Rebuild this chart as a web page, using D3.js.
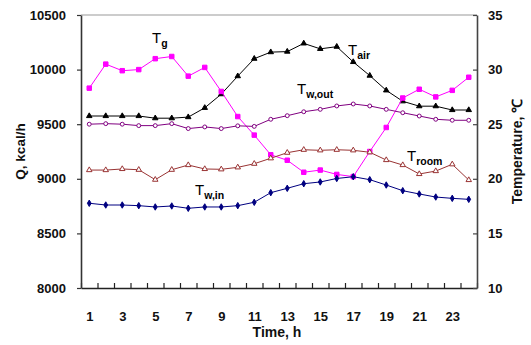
<!DOCTYPE html>
<html>
<head>
<meta charset="utf-8">
<script src="https://cdn.jsdelivr.net/npm/d3@7"></script>
<style>
  body { margin: 0; background: #fff; }
  svg { font-family: "Liberation Sans", Arial, sans-serif; }
</style>
</head>
<body>
<script>
// hours 1..24
const hours = d3.range(1, 25);
const hourLabels = [1, 3, 5, 7, 9, 11, 13, 15, 17, 19, 21, 23];
const qTicks = [8000, 8500, 9000, 9500, 10000, 10500];
const tTicks = [10, 15, 20, 25, 30, 35];

// temperatures, degC (right axis)
const tG = [28.3, 30.5, 29.9, 30.0, 31.0, 31.2, 29.4, 30.2, 28.0, 25.7, 24.0, 22.2,
            21.7, 20.6, 20.8, 20.4, 20.2, 22.5, 24.7, 27.4, 28.2, 27.5, 28.1, 29.3];
const tAir = [25.75, 25.75, 25.75, 25.75, 25.55, 25.55, 25.65, 26.5, 27.75, 29.4, 31.0, 31.6,
              31.65, 32.4, 31.9, 32.1, 30.7, 29.45, 28.1, 27.1, 26.65, 26.65, 26.3, 26.3];
const tWout = [25.0, 25.05, 25.0, 24.87, 24.87, 25.05, 24.6, 24.75, 24.6, 24.85, 24.8, 25.45,
               25.78, 26.14, 26.36, 26.67, 26.85, 26.67, 26.36, 26.05, 25.75, 25.45, 25.36, 25.36];
const tRoom = [20.8, 20.8, 20.9, 20.83, 19.92, 20.83, 21.26, 20.9, 20.87, 21.05, 21.38, 21.88,
               22.39, 22.66, 22.61, 22.66, 22.61, 22.43, 21.72, 21.26, 20.44, 20.71, 21.33, 19.89];
const tWin = [17.76, 17.6, 17.6, 17.54, 17.42, 17.51, 17.3, 17.42, 17.42, 17.54, 17.85, 18.73,
              19.13, 19.55, 19.71, 20.03, 20.19, 19.92, 19.43, 18.91, 18.61, 18.33, 18.21, 18.12];

const margin = { top: 15, right: 54, bottom: 57, left: 81 };
const W = 531, H = 345;
const width = W - margin.left - margin.right;
const height = H - margin.top - margin.bottom;

const svg = d3.select("body").append("svg")
    .attr("width", W)
    .attr("height", H)
  .append("g")
    .attr("transform", "translate(" + margin.left + "," + margin.top + ")");

const x = d3.scaleLinear().domain([0.5, 24.5]).range([0, width]);
const yQ = d3.scaleLinear().domain([8000, 10500]).range([height, 0]);
const yT = d3.scaleLinear().domain([10, 35]).range([height, 0]);

// top border
svg.append("line")
    .attr("x1", 0).attr("x2", width)
    .attr("y1", 0).attr("y2", 0)
    .attr("stroke", "#999").attr("stroke-width", 1);

// bottom axis: boundary ticks + labels
const xTickAxis = svg.append("g")
    .attr("transform", "translate(0," + height + ")")
    .call(d3.axisBottom(x).tickValues(d3.range(0.5, 25, 1)).tickFormat("").tickSize(-5).tickSizeOuter(0));
xTickAxis.selectAll("line").attr("stroke", "#222").attr("stroke-width", 1.2);
xTickAxis.select(".domain").attr("stroke", "#222").attr("stroke-width", 1.6);

const xLab = svg.append("g")
    .attr("transform", "translate(0," + height + ")")
    .call(d3.axisBottom(x).tickValues(hourLabels).tickFormat(d3.format("d")).tickSize(0).tickPadding(24));
xLab.select(".domain").remove();
xLab.selectAll("text").attr("font-size", 13).attr("font-weight", "bold")
    .attr("font-family", "Liberation Sans, Arial, sans-serif").attr("fill", "#111");

// left axis
const yLeft = svg.append("g")
    .call(d3.axisLeft(yQ).tickValues(qTicks).tickFormat(d3.format("d")).tickSize(4).tickSizeOuter(0).tickPadding(11));
yLeft.select(".domain").attr("stroke", "#333").attr("stroke-width", 1.6);
yLeft.selectAll("line").attr("stroke", "#333").attr("stroke-width", 1.2);
yLeft.selectAll("text").attr("font-size", 13).attr("font-weight", "bold")
    .attr("font-family", "Liberation Sans, Arial, sans-serif").attr("fill", "#111");

// right axis, ticks point inward
const yRight = svg.append("g")
    .attr("transform", "translate(" + width + ",0)")
    .call(d3.axisRight(yT).tickValues(tTicks).tickSize(-4).tickSizeOuter(0).tickPadding(11));
yRight.select(".domain").attr("stroke", "#444").attr("stroke-width", 1.6);
yRight.selectAll("line").attr("stroke", "#444").attr("stroke-width", 1.2);
yRight.selectAll("text").attr("font-size", 13).attr("font-weight", "bold")
    .attr("font-family", "Liberation Sans, Arial, sans-serif").attr("fill", "#111");

// axis titles
svg.append("text")
    .attr("transform", "translate(" + (20 - margin.left) + "," + (height / 2) + ") rotate(-90)")
    .attr("text-anchor", "middle").attr("dy", "0.35em")
    .attr("font-size", 13.5).attr("font-weight", "bold").attr("fill", "#111")
    .text("Q, kcal/h");

svg.append("text")
    .attr("transform", "translate(" + (517 - margin.left) + "," + (height / 2) + ") rotate(-90)")
    .attr("text-anchor", "middle").attr("dy", "0.35em")
    .attr("font-size", 14).attr("font-weight", "bold").attr("fill", "#111")
    .text("Temperature, \u2103");

svg.append("text")
    .attr("x", width / 2 - 2).attr("y", 337 - margin.top)
    .attr("text-anchor", "middle")
    .attr("font-size", 14).attr("font-weight", "bold").attr("fill", "#111")
    .text("Time, h");

// series
const series = [
  { name: "air",   values: tAir,  color: "#000000", symbol: d3.symbolTriangle, size: 13, filled: true },
  { name: "g",     values: tG,    color: "#ff00ff", symbol: d3.symbolSquare,   size: 20, filled: true },
  { name: "w,out", values: tWout, color: "#800080", symbol: d3.symbolCircle,   size: 12, filled: false },
  { name: "room",  values: tRoom, color: "#993333", symbol: d3.symbolTriangle, size: 13, filled: false },
  { name: "w,in",  values: tWin,  color: "#000080", symbol: d3.symbolDiamond,  size: 12, filled: true }
];

const line = d3.line()
    .x((d, i) => x(hours[i]))
    .y(d => yT(d));

series.forEach(s => {
  const g = svg.append("g");
  g.append("path")
      .datum(s.values)
      .attr("fill", "none")
      .attr("stroke", s.color)
      .attr("stroke-width", 1)
      .attr("d", line);
  g.selectAll("path.mk")
      .data(s.values)
    .enter().append("path")
      .attr("class", "mk")
      .attr("transform", (d, i) => "translate(" + x(hours[i]) + "," + yT(d) + ")")
      .attr("d", d3.symbol().type(s.symbol).size(s.size))
      .attr("fill", s.filled ? s.color : "#fff")
      .attr("stroke", s.color)
      .attr("stroke-width", 1);
});

// series labels
const labels = [
  { sub: "g",     x: 152, y: 43 },
  { sub: "air",   x: 348, y: 55 },
  { sub: "w,out", x: 297, y: 94 },
  { sub: "room",  x: 407, y: 161 },
  { sub: "w,in",  x: 195, y: 195 }
];
labels.forEach(l => {
  const t = svg.append("text")
      .attr("x", l.x - margin.left).attr("y", l.y - margin.top)
      .attr("font-size", 15).attr("fill", "#000");
  t.append("tspan").text("T");
  t.append("tspan").attr("font-size", 10.5).attr("font-weight", "bold").attr("dy", 4).text(l.sub);
});
</script>
</body>
</html>
